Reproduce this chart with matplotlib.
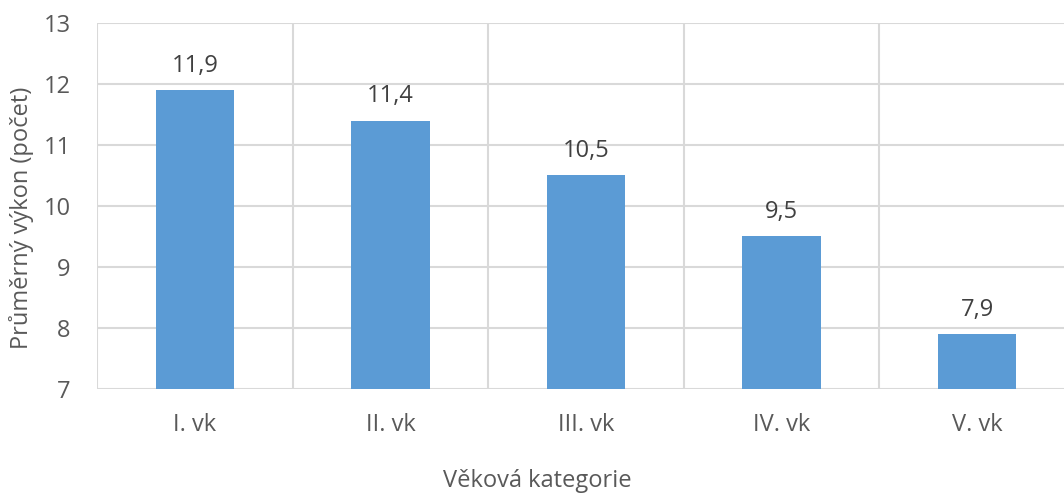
import matplotlib
matplotlib.use("Agg")
import matplotlib.pyplot as plt

categories = ["I. vk", "II. vk", "III. vk", "IV. vk", "V. vk"]
values = [11.9, 11.4, 10.5, 9.5, 7.9]
labels = ["11,9", "11,4", "10,5", "9,5", "7,9"]
yticks = [7, 8, 9, 10, 11, 12, 13]

plt.rcParams['font.family'] = ['Open Sans', 'DejaVu Sans']
W, H = 1064, 493
fig = plt.figure(figsize=(W/100, H/100), dpi=100)
ax = fig.add_axes([97/W, 1-389/H, (1075-97)/W, (389-23)/H])

grid_c = "#d9d9d9"
text_c = "#595959"
fs = 17
x = list(range(len(categories)))
ax.bar(x, [v - 7 for v in values], bottom=7, width=0.4, color="#5b9bd5", zorder=3)
for xi, v, l in zip(x, values, labels):
    ax.text(xi, v + 0.3, l, ha="center", va="baseline", fontsize=fs, color="#404040")

ax.set_xlim(-0.5, len(categories) - 0.5)
ax.set_ylim(7, 13)
ax.set_yticks(yticks)
ax.set_yticklabels([str(t) for t in yticks], fontsize=fs, color=text_c)
ax.set_xticks(x)
ax.set_xticklabels(categories, fontsize=fs, color=text_c)
ax.tick_params(axis="both", length=0)
ax.tick_params(axis="x", pad=17)
ax.tick_params(axis="y", pad=19)
for t in yticks:
    ax.axhline(t, color=grid_c, lw=1.5, zorder=1)
for b in [i - 0.5 for i in range(len(categories) + 1)]:
    ax.axvline(b, color=grid_c, lw=1.5, zorder=1)
for s in ax.spines.values():
    s.set_visible(False)

fig.text(22/W, 1-218/H, "Průměrný výkon (počet)", ha="center", va="center",
         rotation=90, fontsize=fs, color=text_c)
fig.text(537/W, 1-481/H, "Věková kategorie", ha="center", va="center", fontsize=fs, color=text_c)

fig.savefig("out.png", dpi=100)
